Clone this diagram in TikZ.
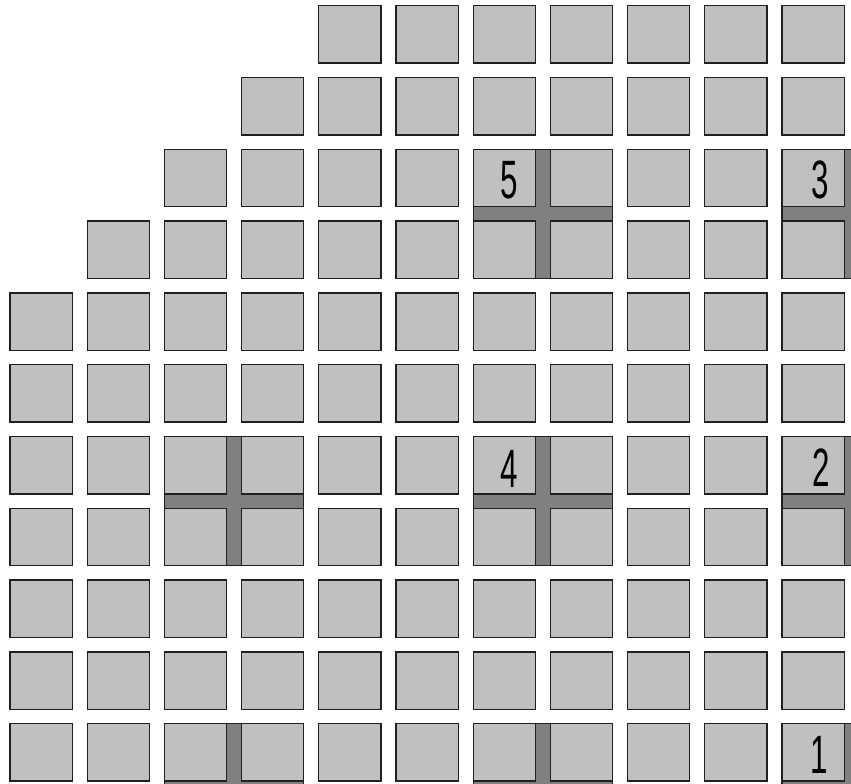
\documentclass[tikz,border=0pt]{standalone}
\usepackage{fontspec}
\setmainfont{Liberation Sans}
\definecolor{cellgray}{HTML}{C0C0C0}
\definecolor{bargray}{HTML}{808080}
\definecolor{edge}{HTML}{202020}
\begin{document}
\begin{tikzpicture}[x=1pt,y=-1pt,
  cell/.style={draw=edge,fill=cellgray,line width=1.3pt},
  bar/.style={draw=edge,fill=bargray,line width=1.3pt},
  digit/.style={inner sep=0pt,font=\fontsize{54}{54}\selectfont,xscale=0.58}]
\useasboundingbox (0,0) rectangle (851,784);
\clip (0,0) rectangle (851,784);
\fill[white] (0,0) rectangle (851,784);
\def\cw{62.2}
\def\ch{57.4}
% dark 2x2 blocks (the cross bars)
\foreach \i/\j in {2/6,6/2,6/6,10/2,10/6,2/10,6/10,10/10}
  \draw[bar] ({10+77.2*\i},{5.7+71.8*\j}) rectangle ({10+77.2*\i+77.2+\cw},{5.7+71.8*\j+71.8+\ch});
% cells
\foreach \j/\s in {0/4,1/3,2/2,3/1,4/0,5/0,6/0,7/0,8/0,9/0,10/0}
  \foreach \i in {\s,...,10}
    \draw[cell] ({10+77.2*\i},{5.7+71.8*\j}) rectangle ({10+77.2*\i+\cw},{5.7+71.8*\j+\ch});
% numbers
\node[digit,anchor=base east] (n5) at (518,198) {5};
\node[digit,anchor=base east] (n3) at (829,198) {3};
\node[digit,anchor=base east] (n4) at (518,487) {4};
\node[digit,anchor=base east] (n2) at (830,486) {2};
\node[digit,anchor=base east] (n1) at (828,773) {1};
\end{tikzpicture}
\end{document}
